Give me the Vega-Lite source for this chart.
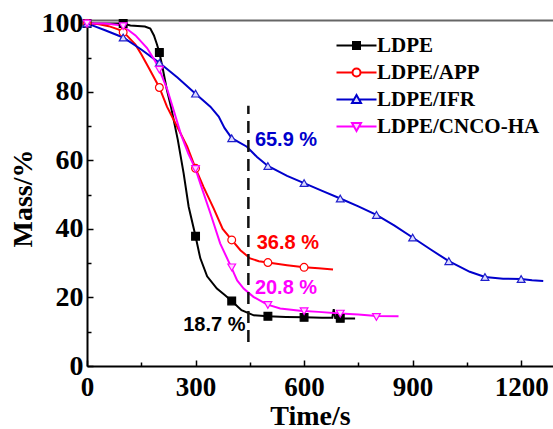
{
  "$schema": "https://vega.github.io/schema/vega-lite/v6.json",
  "width": 466,
  "height": 346,
  "autosize": {"type": "none"},
  "padding": {"left": 87, "top": 20, "right": 0, "bottom": 63},
  "background": "white",
  "config": {
    "view": {"stroke": null},
    "axis": {"labelFont": "Liberation Serif", "labelFontWeight": "bold", "titleFont": "Liberation Serif", "titleFontWeight": "bold", "labelColor": "black", "titleColor": "black", "domainColor": "black", "tickColor": "black", "grid": false}
  },
  "datasets": {
    "curves": [
      {"s": "LDPE", "t": 0, "m": 100}, {"s": "LDPE", "t": 50, "m": 100}, {"s": "LDPE", "t": 100, "m": 100}, {"s": "LDPE", "t": 120, "m": 99.4}, {"s": "LDPE", "t": 160, "m": 99.1}, {"s": "LDPE", "t": 175, "m": 98.5}, {"s": "LDPE", "t": 185, "m": 96.5}, {"s": "LDPE", "t": 193, "m": 94}, {"s": "LDPE", "t": 200, "m": 91.5}, {"s": "LDPE", "t": 210, "m": 86.5}, {"s": "LDPE", "t": 220, "m": 81}, {"s": "LDPE", "t": 232, "m": 75.7}, {"s": "LDPE", "t": 251, "m": 66}, {"s": "LDPE", "t": 267, "m": 56.3}, {"s": "LDPE", "t": 281, "m": 46.5}, {"s": "LDPE", "t": 300, "m": 37.9}, {"s": "LDPE", "t": 313, "m": 31.5}, {"s": "LDPE", "t": 332, "m": 26.2}, {"s": "LDPE", "t": 359, "m": 22.6}, {"s": "LDPE", "t": 380, "m": 20.8}, {"s": "LDPE", "t": 400, "m": 19}, {"s": "LDPE", "t": 427, "m": 16.3}, {"s": "LDPE", "t": 461, "m": 14.8}, {"s": "LDPE", "t": 500, "m": 14.5}, {"s": "LDPE", "t": 550, "m": 14.3}, {"s": "LDPE", "t": 600, "m": 14.2}, {"s": "LDPE", "t": 650, "m": 14.1}, {"s": "LDPE", "t": 678, "m": 14.1}, {"s": "LDPE", "t": 682, "m": 16.6}, {"s": "LDPE", "t": 686, "m": 14}, {"s": "LDPE", "t": 700, "m": 13.9}, {"s": "LDPE", "t": 741, "m": 13.9},
      {"s": "LDPE/APP", "t": 0, "m": 100}, {"s": "LDPE/APP", "t": 30, "m": 99.8}, {"s": "LDPE/APP", "t": 60, "m": 99.2}, {"s": "LDPE/APP", "t": 88, "m": 98.2}, {"s": "LDPE/APP", "t": 110, "m": 96.5}, {"s": "LDPE/APP", "t": 134, "m": 93.8}, {"s": "LDPE/APP", "t": 150, "m": 91}, {"s": "LDPE/APP", "t": 171, "m": 87}, {"s": "LDPE/APP", "t": 200, "m": 81.3}, {"s": "LDPE/APP", "t": 221, "m": 75.7}, {"s": "LDPE/APP", "t": 249, "m": 69.9}, {"s": "LDPE/APP", "t": 277, "m": 64}, {"s": "LDPE/APP", "t": 300, "m": 57.7}, {"s": "LDPE/APP", "t": 322, "m": 52.3}, {"s": "LDPE/APP", "t": 350, "m": 46}, {"s": "LDPE/APP", "t": 375, "m": 40}, {"s": "LDPE/APP", "t": 400, "m": 36.8}, {"s": "LDPE/APP", "t": 424, "m": 33.8}, {"s": "LDPE/APP", "t": 451, "m": 31.4}, {"s": "LDPE/APP", "t": 475, "m": 30.6}, {"s": "LDPE/APP", "t": 500, "m": 30.2}, {"s": "LDPE/APP", "t": 553, "m": 29.4}, {"s": "LDPE/APP", "t": 600, "m": 28.8}, {"s": "LDPE/APP", "t": 640, "m": 28.5}, {"s": "LDPE/APP", "t": 680, "m": 28.2},
      {"s": "LDPE/IFR", "t": 0, "m": 100}, {"s": "LDPE/IFR", "t": 20, "m": 99.2}, {"s": "LDPE/IFR", "t": 50, "m": 98}, {"s": "LDPE/IFR", "t": 100, "m": 95.9}, {"s": "LDPE/IFR", "t": 150, "m": 92.4}, {"s": "LDPE/IFR", "t": 200, "m": 88.5}, {"s": "LDPE/IFR", "t": 250, "m": 84.2}, {"s": "LDPE/IFR", "t": 300, "m": 79.5}, {"s": "LDPE/IFR", "t": 341, "m": 75.7}, {"s": "LDPE/IFR", "t": 364, "m": 72.8}, {"s": "LDPE/IFR", "t": 380, "m": 69.5}, {"s": "LDPE/IFR", "t": 400, "m": 66.5}, {"s": "LDPE/IFR", "t": 442, "m": 64}, {"s": "LDPE/IFR", "t": 470, "m": 61}, {"s": "LDPE/IFR", "t": 500, "m": 58.4}, {"s": "LDPE/IFR", "t": 553, "m": 55.5}, {"s": "LDPE/IFR", "t": 600, "m": 53.4}, {"s": "LDPE/IFR", "t": 650, "m": 51.1}, {"s": "LDPE/IFR", "t": 700, "m": 48.9}, {"s": "LDPE/IFR", "t": 750, "m": 46.6}, {"s": "LDPE/IFR", "t": 800, "m": 44.1}, {"s": "LDPE/IFR", "t": 850, "m": 41}, {"s": "LDPE/IFR", "t": 900, "m": 37.5}, {"s": "LDPE/IFR", "t": 950, "m": 34}, {"s": "LDPE/IFR", "t": 1000, "m": 30.6}, {"s": "LDPE/IFR", "t": 1058, "m": 27.5}, {"s": "LDPE/IFR", "t": 1100, "m": 26}, {"s": "LDPE/IFR", "t": 1150, "m": 25.5}, {"s": "LDPE/IFR", "t": 1200, "m": 25.4}, {"s": "LDPE/IFR", "t": 1230, "m": 25}, {"s": "LDPE/IFR", "t": 1261, "m": 24.8},
      {"s": "LDPE/CNCO-HA", "t": 0, "m": 100}, {"s": "LDPE/CNCO-HA", "t": 50, "m": 100}, {"s": "LDPE/CNCO-HA", "t": 93, "m": 99.5}, {"s": "LDPE/CNCO-HA", "t": 115, "m": 98}, {"s": "LDPE/CNCO-HA", "t": 134, "m": 96.5}, {"s": "LDPE/CNCO-HA", "t": 166, "m": 92.8}, {"s": "LDPE/CNCO-HA", "t": 189, "m": 88.9}, {"s": "LDPE/CNCO-HA", "t": 200, "m": 86.5}, {"s": "LDPE/CNCO-HA", "t": 221, "m": 81}, {"s": "LDPE/CNCO-HA", "t": 240, "m": 74.5}, {"s": "LDPE/CNCO-HA", "t": 260, "m": 67.5}, {"s": "LDPE/CNCO-HA", "t": 280, "m": 62}, {"s": "LDPE/CNCO-HA", "t": 300, "m": 57.5}, {"s": "LDPE/CNCO-HA", "t": 313, "m": 53.3}, {"s": "LDPE/CNCO-HA", "t": 341, "m": 44.6}, {"s": "LDPE/CNCO-HA", "t": 368, "m": 35.8}, {"s": "LDPE/CNCO-HA", "t": 398, "m": 29}, {"s": "LDPE/CNCO-HA", "t": 415, "m": 25}, {"s": "LDPE/CNCO-HA", "t": 433, "m": 22.6}, {"s": "LDPE/CNCO-HA", "t": 460, "m": 20.2}, {"s": "LDPE/CNCO-HA", "t": 497, "m": 18}, {"s": "LDPE/CNCO-HA", "t": 534, "m": 16.8}, {"s": "LDPE/CNCO-HA", "t": 589, "m": 16.1}, {"s": "LDPE/CNCO-HA", "t": 640, "m": 15.8}, {"s": "LDPE/CNCO-HA", "t": 700, "m": 15.3}, {"s": "LDPE/CNCO-HA", "t": 750, "m": 15}, {"s": "LDPE/CNCO-HA", "t": 800, "m": 14.6}, {"s": "LDPE/CNCO-HA", "t": 861, "m": 14.5}
    ],
    "markers": [
      {"s": "LDPE", "t": 0, "m": 100}, {"s": "LDPE", "t": 100, "m": 100}, {"s": "LDPE", "t": 200, "m": 91.5}, {"s": "LDPE", "t": 300, "m": 37.9}, {"s": "LDPE", "t": 400, "m": 19}, {"s": "LDPE", "t": 500, "m": 14.5}, {"s": "LDPE", "t": 600, "m": 14.2}, {"s": "LDPE", "t": 700, "m": 13.9},
      {"s": "LDPE/APP", "t": 0, "m": 100}, {"s": "LDPE/APP", "t": 100, "m": 97.4}, {"s": "LDPE/APP", "t": 200, "m": 81.3}, {"s": "LDPE/APP", "t": 300, "m": 57.7}, {"s": "LDPE/APP", "t": 400, "m": 36.8}, {"s": "LDPE/APP", "t": 500, "m": 30.2}, {"s": "LDPE/APP", "t": 600, "m": 28.8},
      {"s": "LDPE/IFR", "t": 0, "m": 100}, {"s": "LDPE/IFR", "t": 100, "m": 95.9}, {"s": "LDPE/IFR", "t": 200, "m": 88.5}, {"s": "LDPE/IFR", "t": 300, "m": 79.5}, {"s": "LDPE/IFR", "t": 400, "m": 66.5}, {"s": "LDPE/IFR", "t": 500, "m": 58.4}, {"s": "LDPE/IFR", "t": 600, "m": 53.4}, {"s": "LDPE/IFR", "t": 700, "m": 48.9}, {"s": "LDPE/IFR", "t": 800, "m": 44.1}, {"s": "LDPE/IFR", "t": 900, "m": 37.5}, {"s": "LDPE/IFR", "t": 1000, "m": 30.6}, {"s": "LDPE/IFR", "t": 1100, "m": 26}, {"s": "LDPE/IFR", "t": 1200, "m": 25.4},
      {"s": "LDPE/CNCO-HA", "t": 0, "m": 100}, {"s": "LDPE/CNCO-HA", "t": 100, "m": 99.2}, {"s": "LDPE/CNCO-HA", "t": 200, "m": 86.5}, {"s": "LDPE/CNCO-HA", "t": 300, "m": 57.5}, {"s": "LDPE/CNCO-HA", "t": 400, "m": 28.8}, {"s": "LDPE/CNCO-HA", "t": 500, "m": 17.8}, {"s": "LDPE/CNCO-HA", "t": 600, "m": 16}, {"s": "LDPE/CNCO-HA", "t": 700, "m": 15.3}, {"s": "LDPE/CNCO-HA", "t": 800, "m": 14.3}
    ],
    "labels": [
      {"lab": "65.9 %", "s": "LDPE/IFR", "t": 464, "m": 66},
      {"lab": "36.8 %", "s": "LDPE/APP", "t": 469, "m": 35.9},
      {"lab": "20.8 %", "s": "LDPE/CNCO-HA", "t": 464, "m": 22.9},
      {"lab": "18.7 %", "s": "LDPE", "t": 266, "m": 11.9}
    ],
    "dash": [{"t": 446, "m1": 7, "m2": 76}]
  },
  "layer": [
    {
      "data": {"name": "curves"},
      "mark": {"type": "line", "strokeWidth": 2, "clip": false},
      "encoding": {
        "x": {"field": "t", "type": "quantitative", "scale": {"domain": [0, 1288], "nice": false, "zero": false},
          "axis": {"orient": "bottom", "values": [0, 300, 600, 900, 1200], "format": "d", "title": "Time/s", "titleFontSize": 28, "labelFontSize": 27, "tickSize": -6, "tickWidth": 1.5, "domainWidth": 2, "labelPadding": 14, "labelFlush": false, "labelOverlap": false, "titleBaseline": "alphabetic", "titleX": 223, "titleY": 58, "titleAnchor": "middle", "titleAlign": "center"}},
        "y": {"field": "m", "type": "quantitative", "scale": {"domain": [0, 101], "nice": false, "zero": false},
          "axis": {"orient": "left", "values": [0, 20, 40, 60, 80, 100], "format": "d", "title": "Mass/%", "titleFontSize": 28, "labelFontSize": 28, "tickSize": -6, "tickWidth": 1.5, "domainWidth": 2, "labelPadding": 10, "labelFlush": false, "labelOverlap": false, "titleBaseline": "middle", "titleX": -64, "titleY": 178, "titleAngle": -90, "titleAlign": "center"}},
        "color": {"field": "s", "type": "nominal", "scale": {"domain": ["LDPE", "LDPE/APP", "LDPE/IFR", "LDPE/CNCO-HA"], "range": ["#000000", "#ff0000", "#0000cc", "#ff00ff"]}, "legend": null}
      }
    },
    {
      "data": {"name": "markers"},
      "mark": {"type": "point", "strokeWidth": 1.2, "size": 60, "opacity": 1, "clip": false},
      "encoding": {
        "x": {"field": "t", "type": "quantitative", "scale": {"domain": [0, 1288], "nice": false, "zero": false}, "axis": null},
        "y": {"field": "m", "type": "quantitative", "scale": {"domain": [0, 101], "nice": false, "zero": false}, "axis": null},
        "stroke": {"field": "s", "type": "nominal", "scale": {"domain": ["LDPE", "LDPE/APP", "LDPE/IFR", "LDPE/CNCO-HA"], "range": ["#000000", "#ff0000", "#2020cc", "#ff00ff"]}, "legend": null},
        "fill": {"field": "s", "type": "nominal", "scale": {"domain": ["LDPE", "LDPE/APP", "LDPE/IFR", "LDPE/CNCO-HA"], "range": ["#000000", "#ffffff", "#dcdcff", "#ffd6ff"]}, "legend": null},
        "shape": {"field": "s", "type": "nominal", "scale": {"domain": ["LDPE", "LDPE/APP", "LDPE/IFR", "LDPE/CNCO-HA"], "range": ["square", "circle", "triangle-up", "triangle-down"]}, "legend": null}
      }
    },
    {
      "data": {"name": "markers"},
      "mark": {"type": "point", "opacity": 0, "clip": false},
      "encoding": {
        "x": {"field": "t", "type": "quantitative", "scale": {"domain": [0, 1288], "nice": false, "zero": false}, "axis": null},
        "y": {"field": "m", "type": "quantitative", "scale": {"domain": [0, 101], "nice": false, "zero": false}, "axis": null},
        "stroke": {"field": "s", "type": "nominal", "scale": {"domain": ["LDPE", "LDPE/APP", "LDPE/IFR", "LDPE/CNCO-HA"], "range": ["#000000", "#ff0000", "#0000cc", "#ff00ff"]},
          "legend": {"title": null, "orient": "none", "legendX": 259, "legendY": 15, "padding": 0, "labelFont": "Liberation Serif", "labelFontWeight": "bold", "labelFontSize": 21, "labelColor": "black", "symbolSize": 100, "symbolStrokeWidth": 2, "symbolOpacity": 1, "labelOffset": 10, "rowPadding": 5, "labelLimit": 300}},
        "fill": {"field": "s", "type": "nominal", "scale": {"domain": ["LDPE", "LDPE/APP", "LDPE/IFR", "LDPE/CNCO-HA"], "range": ["#000000", "#ffffff", "#dcdcff", "#ffd6ff"]},
          "legend": {"title": null, "orient": "none", "legendX": 259, "legendY": 15, "padding": 0, "labelFont": "Liberation Serif", "labelFontWeight": "bold", "labelFontSize": 21, "labelColor": "black", "symbolSize": 100, "symbolStrokeWidth": 2, "symbolOpacity": 1, "labelOffset": 10, "rowPadding": 5, "labelLimit": 300}},
        "shape": {"field": "s", "type": "nominal", "scale": {"domain": ["LDPE", "LDPE/APP", "LDPE/IFR", "LDPE/CNCO-HA"], "range": ["M-4,0H4M-0.7,-0.7H0.7V0.7H-0.7Z", "M-4,0H-0.8M0.8,0H4M-0.8,0A0.8,0.8 0 1,0 0.8,0A0.8,0.8 0 1,0 -0.8,0Z", "M-4,0H-0.5M0.5,0H4M0,-0.9L0.9,0.7L-0.9,0.7Z", "M-4,0H-0.5M0.5,0H4M0,0.9L0.9,-0.7L-0.9,-0.7Z"]},
          "legend": {"title": null, "orient": "none", "legendX": 259, "legendY": 15, "padding": 0, "labelFont": "Liberation Serif", "labelFontWeight": "bold", "labelFontSize": 21, "labelColor": "black", "symbolSize": 100, "symbolStrokeWidth": 2, "symbolOpacity": 1, "labelOffset": 10, "rowPadding": 5, "labelLimit": 300}}
      }
    },
    {
      "data": {"name": "dash"},
      "mark": {"type": "rule", "strokeDash": [12, 7], "strokeWidth": 2.5, "color": "#111111"},
      "encoding": {
        "x": {"field": "t", "type": "quantitative", "scale": {"domain": [0, 1288], "nice": false, "zero": false},
          "axis": {"orient": "bottom", "values": [150, 450, 750, 1050], "labels": false, "tickSize": -4, "tickWidth": 1.5, "domain": false, "title": null}},
        "y": {"field": "m1", "type": "quantitative", "scale": {"domain": [0, 101], "nice": false, "zero": false},
          "axis": {"orient": "left", "values": [10, 30, 50, 70, 90], "labels": false, "tickSize": -4, "tickWidth": 1.5, "domain": false, "title": null}},
        "y2": {"field": "m2"}
      }
    },
    {
      "data": {"name": "labels"},
      "mark": {"type": "text", "align": "left", "baseline": "middle", "font": "Liberation Sans", "fontWeight": "bold", "fontSize": 20},
      "encoding": {
        "x": {"field": "t", "type": "quantitative", "scale": {"domain": [0, 1288], "nice": false, "zero": false},
          "axis": {"orient": "top", "domainColor": "#666666", "domainWidth": 2, "ticks": false, "labels": false, "title": null}},
        "y": {"field": "m", "type": "quantitative", "scale": {"domain": [0, 101], "nice": false, "zero": false}, "axis": null},
        "text": {"field": "lab", "type": "nominal"},
        "color": {"field": "s", "type": "nominal", "scale": {"domain": ["LDPE", "LDPE/APP", "LDPE/IFR", "LDPE/CNCO-HA"], "range": ["#000000", "#ff0000", "#0000cc", "#ff00ff"]}, "legend": null}
      }
    }
  ],
  "resolve": {
    "scale": {"shape": "independent", "fill": "independent", "stroke": "independent"},
    "axis": {"x": "independent", "y": "independent"}
  }
}
